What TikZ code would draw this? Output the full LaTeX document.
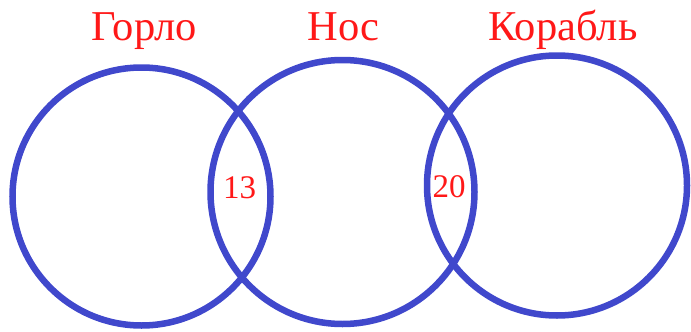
\documentclass[tikz,border=0pt]{standalone}
\usepackage{fontspec}
\setmainfont{Liberation Serif}
\usepackage{xcolor}
\usepackage{tikz}
\definecolor{ringblue}{RGB}{64,72,204}
\definecolor{labelred}{RGB}{255,24,24}

\begin{document}
\begin{tikzpicture}[
		x=1pt, y=-1pt,
		ring/.style={draw=ringblue, circle, line width=6.5pt, inner sep=0pt, outer sep=0pt},
		title/.style={text=labelred, anchor=base, inner sep=0pt, font=\fontsize{42.5}{50}\selectfont},
		count/.style={text=labelred, anchor=base, inner sep=0pt, font=\fontsize{33}{40}\selectfont}
		]
		\useasboundingbox (0,0) rectangle (691,332);
		
		% Rings
		\node[ring, minimum size=258pt] (gorlo) at (141.5,196.5) {};
		\node[ring, minimum size=264pt] (nos) at (342.5,192) {};
		\node[ring, minimum size=260pt] (korabl) at (557,185.5) {};
		
		% Titles
		\node[title] (tgorlo) at (144.5,40) {Горло};
		\node[title] (tnos) at (343.5,40) {Нос};
		\node[title] (tkorabl) at (563,40) {Корабль};
		
		% Overlaps
		\node[count] (c13) at (239.5,198.5) {13};
		\node[count] (c20) at (449,197) {20};
		
	\end{tikzpicture}
\end{document}
